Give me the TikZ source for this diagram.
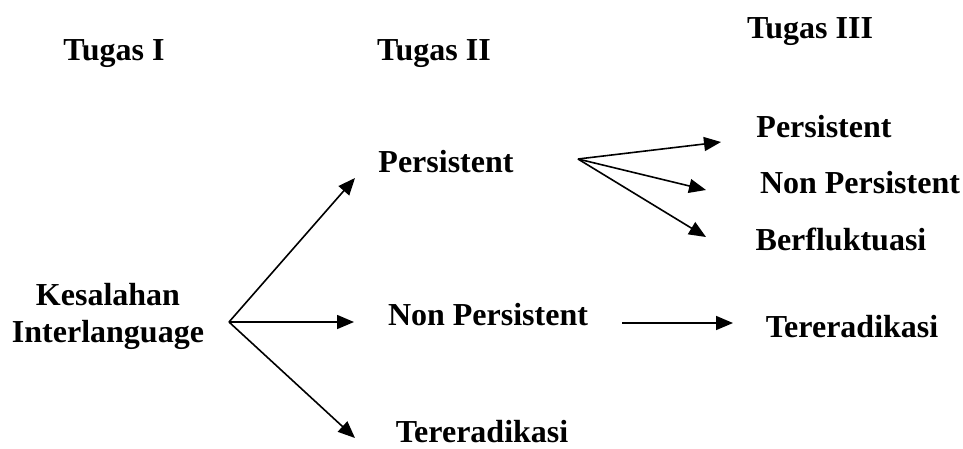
\documentclass[tikz,border=0pt]{standalone}
\usepackage{fontspec}
\setmainfont{Liberation Serif}
\usetikzlibrary{arrows.meta}
\begin{document}
\begin{tikzpicture}[x=1pt,y=-1pt,
  lbl/.style={font=\bfseries\fontsize{32}{37}\selectfont, inner sep=0pt, anchor=base},
  arr/.style={line width=1.6pt, -{Triangle[length=17pt,width=14pt]}}]
\useasboundingbox (0,0) rectangle (963,448);
% headings
\node[lbl] (t1) at (114,60) {Tugas I};
\node[lbl] (t2) at (434,60) {Tugas II};
\node[lbl] (t3) at (810,38) {Tugas III};
% nodes
\node[lbl, anchor=center, align=center] (k) at (108,316) {Kesalahan\\Interlanguage};
\node[lbl] (p2) at (446,172) {Persistent};
\node[lbl] (np2) at (488,325) {Non Persistent};
\node[lbl] (te2) at (482,442) {Tereradikasi};
\node[lbl] (p3) at (824,137) {Persistent};
\node[lbl] (np3) at (860,193) {Non Persistent};
\node[lbl] (bf3) at (841,250) {Berfluktuasi};
\node[lbl] (te3) at (852,337) {Tereradikasi};
% connector end points
\coordinate (ks) at (229,322);
\coordinate (p2e) at (355,178);
\coordinate (np2e) at (354,322);
\coordinate (te2e) at (355,438);
\coordinate (p2s) at (578,159);
\coordinate (p3e) at (721,142);
\coordinate (np3e) at (706,190);
\coordinate (bf3e) at (706,237);
\coordinate (np2s) at (622,323);
\coordinate (te3e) at (733,323);
% connectors
\draw[arr] (ks) -- (p2e);
\draw[arr] (ks) -- (np2e);
\draw[arr] (ks) -- (te2e);
\draw[arr] (p2s) -- (p3e);
\draw[arr] (p2s) -- (np3e);
\draw[arr] (p2s) -- (bf3e);
\draw[arr] (np2s) -- (te3e);
\end{tikzpicture}
\end{document}
